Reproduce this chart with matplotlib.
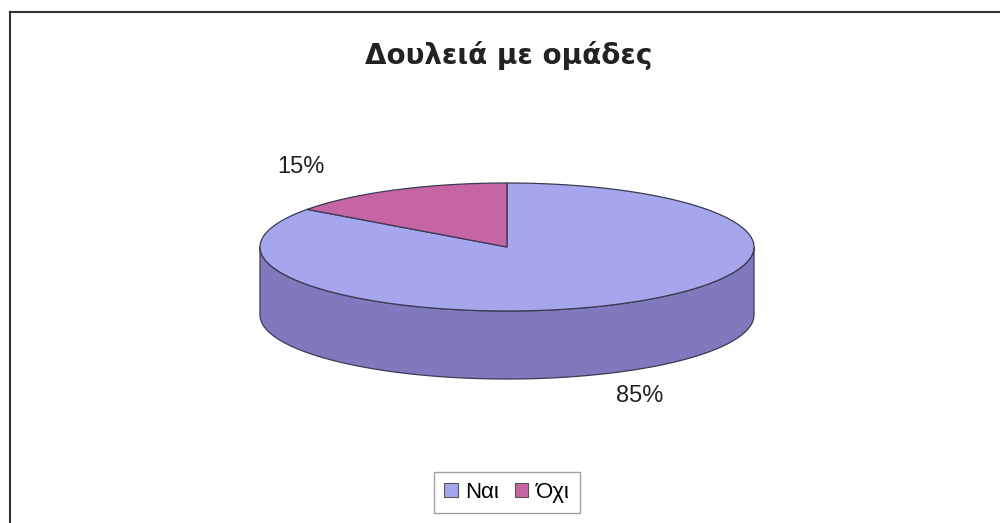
import numpy as np
import matplotlib.pyplot as plt
from matplotlib.patches import Polygon, Patch

title = 'Δουλειά με ομάδες'
labels = ['Ναι', 'Όχι']
values = [85, 15]
top_colors = ['#a6a6ec', '#c665a3']
side_colors = ['#7e7abd', '#9c4c80']

# pie geometry in pixel units
cx, cy = 507, 247
rx, ry = 247, 64
depth = 68

fig = plt.figure(figsize=(10, 5.23), dpi=100)
ax = fig.add_axes([0, 0, 1, 1])
ax.set_xlim(0, 1000)
ax.set_ylim(523, 0)
ax.axis('off')


def pt(t, dy=0):
    return np.column_stack([cx + rx * np.cos(t), cy - ry * np.sin(t) + dy])


# slice angles: Όχι starts at 12 o'clock and runs counterclockwise
fr = np.array(values) / sum(values)
start = np.deg2rad(90)
spans = {}
a = start
for lab, f in zip(labels[::-1], fr[::-1]):
    spans[lab] = (a, a + f * 2 * np.pi)
    a += f * 2 * np.pi

# front side wall (only the lower half of the ellipse is visible)
for i, lab in enumerate(labels):
    a0, a1 = spans[lab]
    lo = max(a0, np.pi)
    hi = min(a1, 2 * np.pi)
    if hi > lo:
        t = np.linspace(lo, hi, 200)
        poly = np.vstack([pt(t), pt(t[::-1], depth)])
        ax.add_patch(Polygon(poly, closed=True, fc=side_colors[i], ec='#3a3a55', lw=0.9))

# top faces
for i, lab in enumerate(labels):
    a0, a1 = spans[lab]
    t = np.linspace(a0, a1, 300)
    poly = np.vstack([[cx, cy], pt(t)])
    ax.add_patch(Polygon(poly, closed=True, fc=top_colors[i], ec='#3a3a55', lw=0.9))

# percentage labels
ax.text(301, 167, '%d%%' % values[1], fontsize=17, family='Liberation Sans',
        ha='center', va='center', color='#222222')
ax.text(640, 396, '%d%%' % values[0], fontsize=17, family='Liberation Sans',
        ha='center', va='center', color='#222222')

ax.text(509, 55, title, fontsize=20, fontweight='bold', family='DejaVu Sans',
        ha='center', va='center', color='#222222')

# outer frame (top and left edges)
ax.plot([10, 1000], [12, 12], color='#333333', lw=1.5)
ax.plot([10, 10], [12, 523], color='#333333', lw=1.5)

handles = [Patch(fc=top_colors[i], ec='#555555', lw=0.8) for i in range(len(labels))]
leg = ax.legend(handles, labels, ncol=2, loc='upper center',
                bbox_to_anchor=(507 / 1000, 1 - 472 / 523),
                prop={'family': 'Liberation Sans', 'size': 16},
                frameon=True, fancybox=False, handlelength=0.6, handleheight=0.6,
                handletextpad=0.35, columnspacing=0.7, borderpad=0.45,
                borderaxespad=0)
leg.get_frame().set_edgecolor('#888888')
leg.get_frame().set_linewidth(1.0)

fig.savefig('out.png', dpi=100, facecolor='white')
